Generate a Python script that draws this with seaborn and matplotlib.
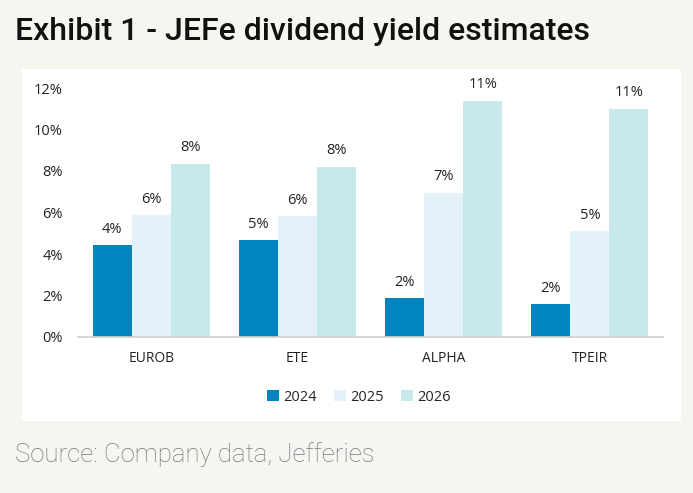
import matplotlib
matplotlib.use("Agg")
import matplotlib.pyplot as plt
import seaborn as sns
import pandas as pd
from matplotlib.patches import Rectangle

banks = ["EUROB", "ETE", "ALPHA", "TPEIR"]
years = ["2024", "2025", "2026"]
y2024 = [4.43, 4.66, 1.88, 1.59]
y2025 = [5.88, 5.82, 6.96, 5.09]
y2026 = [8.35, 8.21, 11.39, 11.0]
colors = ["#0085c0", "#e3f1f8", "#c8e9ec"]

df = pd.DataFrame({
    "bank": banks * 3,
    "year": [y for y in years for _ in banks],
    "yield": y2024 + y2025 + y2026,
})

sns.set_theme(style="white")
plt.rcParams["font.family"] = ["Open Sans", "DejaVu Sans"]

fig = plt.figure(figsize=(6.93, 4.93), dpi=100)
fig.patch.set_facecolor("#f6f6f1")
fig.patches.append(Rectangle((22 / 693, 1 - 421 / 493), (681 - 22) / 693, (421 - 69) / 493,
                             transform=fig.transFigure, facecolor="white", edgecolor="none", zorder=-10))

ax = fig.add_axes([78 / 693, 1 - 337 / 493, (663 - 78) / 693, (337 - 88) / 493])
ax.set_facecolor("none")
sns.barplot(data=df, x="bank", y="yield", hue="year", palette=colors, width=0.8,
            saturation=1, ax=ax, edgecolor="none")

for cont in ax.containers:
    ax.bar_label(cont, fmt="%.0f%%", padding=6, fontsize=10.5, color="#222222")

ax.set_ylim(0, 12)
ax.set_yticks(range(0, 13, 2))
ax.set_yticklabels([f"{v}%" for v in range(0, 13, 2)], fontsize=10.5, color="#222222")
ax.tick_params(axis="x", labelsize=10, colors="#222222", pad=10, length=0)
ax.tick_params(axis="y", pad=11, length=0)
ax.set_xlabel("")
ax.set_ylabel("")
for s in ["top", "right", "left"]:
    ax.spines[s].set_visible(False)
ax.spines["bottom"].set_color("#d0d0d0")

ax.legend(title=None, loc="upper center", bbox_to_anchor=(0.48, -0.16), ncol=3, frameon=False,
          fontsize=10.5, handlelength=0.8, handleheight=0.8, handletextpad=0.3, columnspacing=1.2)

fig.text(15 / 693, 1 - 32 / 493, "Exhibit 1 - JEFe dividend yield estimates", fontsize=23,
         fontweight="medium", family="Roboto", va="center", ha="left", color="#111111")
fig.text(15 / 693, 1 - 455 / 493, "Source: Company data, Jefferies", fontsize=18.5,
         fontweight="light", family="Roboto", va="center", ha="left", color="#737985")

fig.savefig("out.png", dpi=100, facecolor=fig.get_facecolor())
